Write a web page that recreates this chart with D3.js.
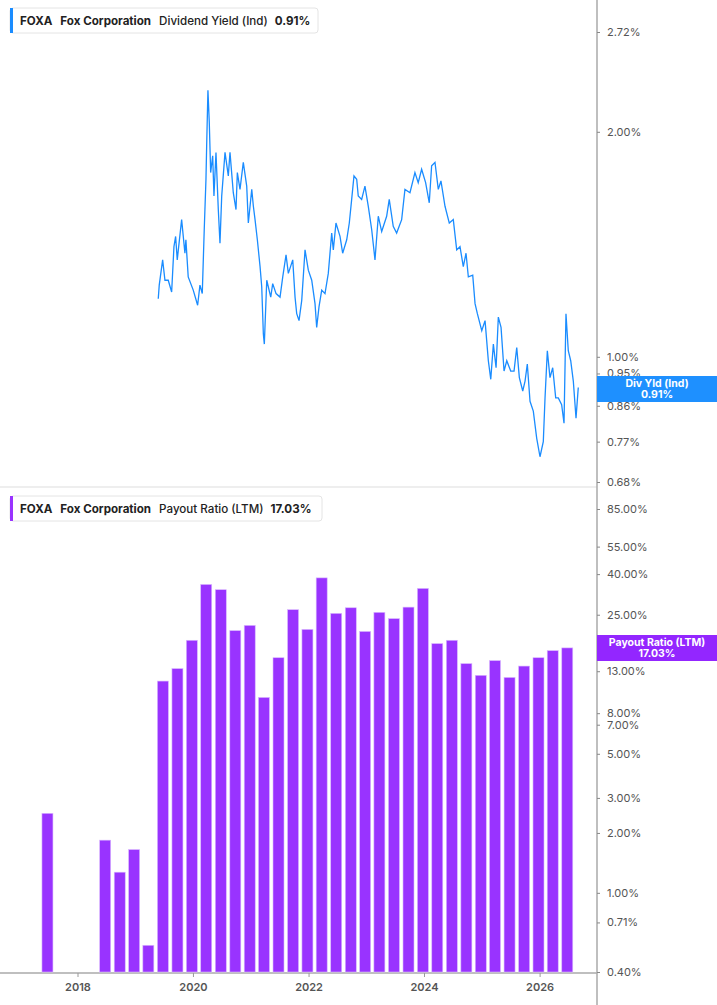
<!DOCTYPE html>
<html><head><meta charset="utf-8">
<script src="https://cdn.jsdelivr.net/npm/d3@7"></script>
<style>body{margin:0;background:#fff;font-family:Inter,"Noto Sans",sans-serif}</style>
</head><body><svg id="c" width="717" height="1005"></svg>
<script>
// Dividend yield (decimal year, percent)
const yieldDates = [2019.399,2019.416,2019.475,2019.515,2019.572,2019.631,2019.671,2019.700,2019.728,2019.804,2019.861,2019.878,2019.918,2020.005,2020.081,2020.121,2020.161,2020.195,2020.225,2020.237,2020.259,2020.282,2020.306,2020.341,2020.363,2020.398,2020.438,2020.467,2020.497,2020.554,2020.611,2020.640,2020.697,2020.744,2020.767,2020.813,2020.870,2020.929,2020.957,2021.016,2021.044,2021.073,2021.113,2021.160,2021.189,2021.217,2021.234,2021.276,2021.345,2021.379,2021.437,2021.506,2021.553,2021.610,2021.650,2021.726,2021.766,2021.795,2021.835,2021.882,2021.939,2021.996,2022.055,2022.112,2022.141,2022.181,2022.228,2022.285,2022.342,2022.401,2022.429,2022.475,2022.545,2022.591,2022.661,2022.706,2022.747,2022.787,2022.834,2022.861,2022.920,2022.977,2023.035,2023.094,2023.151,2023.208,2023.267,2023.353,2023.398,2023.467,2023.526,2023.613,2023.670,2023.757,2023.843,2023.900,2023.959,2024.028,2024.091,2024.132,2024.190,2024.247,2024.293,2024.363,2024.437,2024.506,2024.565,2024.622,2024.679,2024.726,2024.766,2024.842,2024.882,2024.922,2024.998,2025.055,2025.112,2025.154,2025.199,2025.246,2025.285,2025.332,2025.384,2025.431,2025.500,2025.557,2025.604,2025.649,2025.708,2025.748,2025.787,2025.834,2025.891,2025.950,2026.007,2026.064,2026.094,2026.134,2026.180,2026.227,2026.279,2026.324,2026.382,2026.423,2026.457,2026.497,2026.539,2026.584,2026.631,2026.670];
const yieldValues = [1.196,1.247,1.348,1.266,1.266,1.221,1.404,1.449,1.348,1.526,1.376,1.434,1.279,1.228,1.172,1.247,1.215,1.479,1.728,1.916,2.273,2.061,1.764,1.858,1.641,1.877,1.574,1.419,1.641,1.877,1.746,1.877,1.658,1.574,1.764,1.675,1.820,1.692,1.510,1.675,1.590,1.526,1.434,1.320,1.240,1.073,1.040,1.266,1.202,1.253,1.215,1.202,1.279,1.369,1.293,1.348,1.202,1.142,1.118,1.190,1.390,1.306,1.266,1.178,1.095,1.166,1.228,1.215,1.293,1.464,1.390,1.510,1.449,1.376,1.434,1.510,1.624,1.746,1.728,1.641,1.624,1.692,1.590,1.479,1.348,1.542,1.471,1.542,1.624,1.495,1.464,1.526,1.675,1.658,1.764,1.710,1.782,1.710,1.607,1.801,1.820,1.675,1.719,1.590,1.510,1.526,1.390,1.404,1.320,1.376,1.279,1.286,1.178,1.142,1.084,1.118,0.988,0.933,1.040,0.967,1.130,1.095,0.957,0.988,0.957,0.957,1.029,0.938,0.900,0.928,0.978,0.872,0.846,0.778,0.735,0.770,0.881,1.019,0.938,0.967,0.881,0.881,0.863,0.815,1.142,1.019,0.988,0.928,0.828,0.910];
// Payout ratio (LTM), quarterly
const payoutDates = ["2017-06-25","2018-06-25","2018-09-25","2018-12-25","2019-03-25","2019-06-25","2019-09-25","2019-12-25","2020-03-25","2020-06-25","2020-09-25","2020-12-25","2021-03-25","2021-06-25","2021-09-25","2021-12-25","2022-03-25","2022-06-25","2022-09-25","2022-12-25","2023-03-25","2023-06-25","2023-09-25","2023-12-25","2024-03-25","2024-06-25","2024-09-25","2024-12-25","2025-03-25","2025-06-25","2025-09-25","2025-12-25","2026-03-25","2026-06-25"];
const payoutValues = [2.51,1.84,1.27,1.65,0.545,11.6,13.4,18.6,35.5,33.4,20.8,22.1,9.6,15.2,26.5,21.1,38.3,25.4,27.1,20.6,25.7,23.9,27.3,33.9,17.9,18.6,14.2,12.4,14.7,12.1,13.8,15.2,16.5,17.03];
const yieldTicks = [2.72,2.00,1.00,0.95,0.86,0.77,0.68];
const payoutTicks = [85,55,40,25,13,8,7,5,3,2,1,0.71,0.40];
const yearTicks = [2018,2020,2022,2024,2026];

const svg = d3.select("#c");
const AX = 597;
const x = d3.scaleTime().domain([new Date(2018,0,1), new Date(2026,0,1)]).range([77.5, 539.6]);
const decToDate = t => { const y=Math.floor(t); const s=new Date(y,0,1), e=new Date(y+1,0,1); return new Date(+s + (t-y)*(e-s)); };
const yTop = d3.scaleLog().domain([2.72, 0.68]).range([32, 482]);
const yBot = d3.scaleLog().domain([85, 0.40]).range([509, 972]);

svg.append("line").attr("x1",0).attr("x2",AX).attr("y1",487).attr("y2",487).attr("stroke","#ddd");
svg.append("line").attr("x1",0).attr("x2",AX).attr("y1",973).attr("y2",973).attr("stroke","#aaa").attr("stroke-width",1.5);
svg.append("line").attr("x1",AX).attr("x2",AX).attr("y1",0).attr("y2",1005).attr("stroke","#aaa").attr("stroke-width",1.5);

const pts = yieldDates.map((t,i)=>[decToDate(t), yieldValues[i]]);
svg.append("path").datum(pts).attr("fill","none").attr("stroke","#1a8cff").attr("stroke-width",1.3)
  .attr("d", d3.line().x(d=>x(d[0])).y(d=>yTop(d[1])));

const bw = 11;
svg.selectAll("rect.bar").data(payoutValues).join("rect").attr("class","bar")
  .attr("x",(d,i)=>x(new Date(payoutDates[i]))-bw/2).attr("width",bw)
  .attr("y",d=>yBot(d)).attr("height",d=>972-yBot(d))
  .attr("fill","#9933ff").attr("stroke","#d9b8ff").attr("stroke-width",0.6);

function rightAxis(scale, ticks){
  const g = svg.append("g").attr("transform",`translate(${AX},0)`)
    .call(d3.axisRight(scale).tickValues(ticks).tickSize(3).tickPadding(7).tickFormat(d=>d.toFixed(2)+"%"));
  g.select(".domain").remove();
  g.selectAll("line").attr("stroke","#888");
  g.selectAll("text").attr("fill","#555").style("font-size","11px").style("font-family","Inter, sans-serif");
}
rightAxis(yTop, yieldTicks);
rightAxis(yBot, payoutTicks);
const xg = svg.append("g").attr("transform","translate(0,973)")
  .call(d3.axisBottom(x).tickValues(yearTicks.map(y=>new Date(y,0,1))).tickSize(4).tickPadding(6).tickFormat(d3.timeFormat("%Y")));
xg.select(".domain").remove();
xg.selectAll("line").attr("stroke","#999");
xg.selectAll("text").attr("fill","#555").style("font-size","11px").style("font-weight","600").style("font-family","Inter, sans-serif");

function tag(y, color, l1, l2){
  svg.append("rect").attr("x",AX).attr("y",y).attr("width",120).attr("height",26).attr("fill",color);
  svg.append("text").attr("x",657).attr("y",y+11).attr("text-anchor","middle").attr("fill","#fff")
    .style("font-size","10.5px").style("font-weight","700").text(l1);
  svg.append("text").attr("x",657).attr("y",y+22).attr("text-anchor","middle").attr("fill","#fff")
    .style("font-size","10.5px").style("font-weight","700").text(l2);
}
tag(376,"#1e90ff","Div Yld (Ind)","0.91%");
tag(635,"#9326ff","Payout Ratio (LTM)","17.03%");

function legend(y, w, color, metric, val){
  const g = svg.append("g").attr("transform",`translate(10,${y})`);
  g.append("rect").attr("width",w).attr("height",25).attr("rx",3).attr("fill","#fff").attr("stroke","#e4e4e4");
  g.append("rect").attr("width",3).attr("height",25).attr("fill",color);
  const t = g.append("text").attr("x",10).attr("y",17).style("font-size","11.6px").attr("fill","#222");
  t.append("tspan").style("font-weight","700").text("FOXA");
  t.append("tspan").attr("dx",8).style("font-weight","700").text("Fox Corporation");
  t.append("tspan").attr("dx",8).style("font-weight","500").text(metric);
  t.append("tspan").attr("dx",7).style("font-weight","700").text(val);
}
legend(8,308,"#1a8cff","Dividend Yield (Ind)","0.91%");
legend(496,312,"#9933ff","Payout Ratio (LTM)","17.03%");
</script></body></html>
